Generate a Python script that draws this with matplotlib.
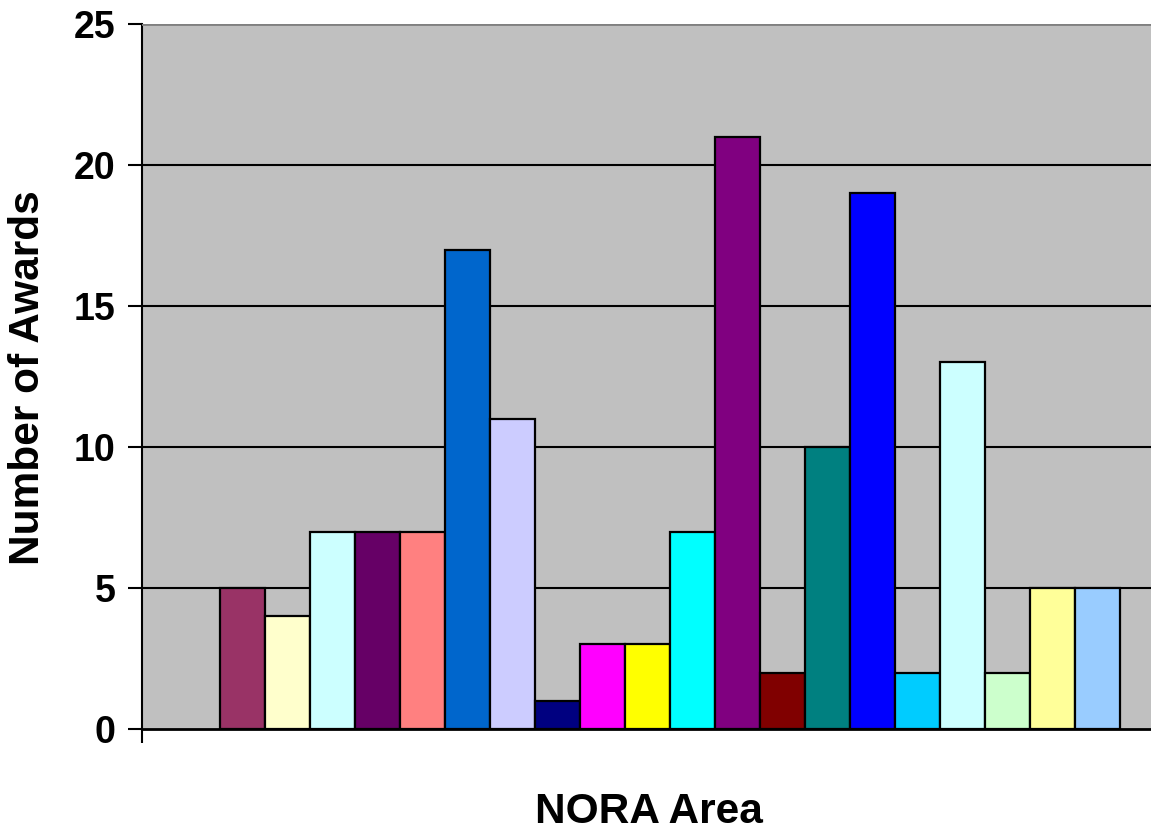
import numpy as np
import matplotlib.pyplot as plt

plt.rcParams['font.family'] = ['Liberation Sans', 'DejaVu Sans']

values = [5, 4, 7, 7, 7, 17, 11, 1, 3, 3, 7, 21, 2, 10, 19, 2, 13, 2, 5, 5]
colors = ['#993366', '#FFFFCC', '#CCFFFF', '#660066', '#FF8080', '#0066CC',
          '#CCCCFF', '#000080', '#FF00FF', '#FFFF00', '#00FFFF', '#800080',
          '#800000', '#008080', '#0000FF', '#00CCFF', '#CCFFFF', '#CCFFCC',
          '#FFFF99', '#99CCFF']
yticks = [0, 5, 10, 15, 20, 25]

fig = plt.figure(figsize=(11.51, 8.32), dpi=100)
ax = fig.add_axes([142 / 1151, 1 - 729 / 832, 1 - 142 / 1151, 705 / 832])
ax.set_facecolor('#C0C0C0')

x = np.arange(len(values))
ax.bar(x, values, width=1.0, color=colors, edgecolor='black', linewidth=1.6, zorder=3)

ax.set_ylim(0, 25)
ax.set_xlim(-0.5 - 78 / 45, 19.5 + 31 / 45)
ax.set_yticks(yticks)
ax.set_yticklabels([str(t) for t in yticks], fontsize=27, fontweight='bold')
for t in yticks[1:]:
    ax.axhline(t, color='black', linewidth=1.5, zorder=1)
ax.axhline(25, color='#808080', linewidth=2, zorder=4)

ax.set_xticks([-0.5 - 78 / 45])
ax.set_xticklabels([''])
ax.tick_params(axis='x', length=10, width=1.5, direction='out')
ax.tick_params(axis='y', length=10, width=1.5, direction='out', pad=9)

for side in ['top', 'right']:
    ax.spines[side].set_visible(False)
ax.spines['left'].set_linewidth(1.5)
ax.spines['bottom'].set_linewidth(2)

fig.text(28 / 1151, 1 - 378 / 832, 'Number of Awards', rotation=90, fontsize=30.5,
         fontweight='bold', ha='center', va='center')
fig.text(649 / 1151, 1 - 812 / 832, 'NORA Area', fontsize=30.5,
         fontweight='bold', ha='center', va='center')

fig.savefig('out.png', dpi=100)
